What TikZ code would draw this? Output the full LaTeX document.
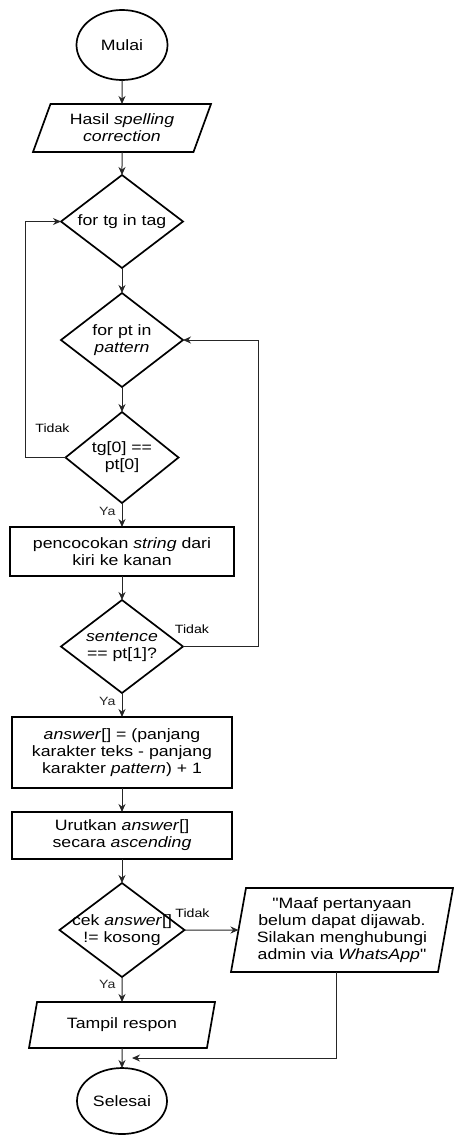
\documentclass[tikz,border=0pt]{standalone}
\usepackage{fontspec}
\setmainfont{Liberation Sans}[FakeStretch=1.18, Ligatures=TeXOff]
\usetikzlibrary{positioning, shapes.geometric, arrows.meta, calc}

\begin{document}
\begin{tikzpicture}[
  font=\fontsize{15}{17}\selectfont,
  every node/.append style={align=center},
  termcard/.style={
    ellipse, draw, line width=1.7pt, outer sep=0pt,
    minimum width=91pt, minimum height=70pt, inner sep=0pt
  },
  iocard/.style={
    trapezium, draw, line width=1.7pt, outer sep=0pt,
    trapezium stretches body=true,
    inner xsep=2pt, inner ysep=0pt
  },
  stepcard/.style={
    rectangle, draw, line width=1.7pt, outer sep=0pt,
    minimum width=220pt, minimum height=47pt, inner sep=0pt
  },
  loopcard/.style={
    diamond, draw, line width=1.7pt, outer sep=0pt, aspect=1.31,
    minimum width=122pt, minimum height=93pt, inner sep=0pt
  },
  flow/.style={-{Stealth[length=8pt,width=7pt]}, line width=1pt, black!85},
  branchlabel/.style={font=\fontsize{12}{14}\selectfont, inner sep=1pt}
]

\useasboundingbox (0,0) rectangle (453pt,-1135pt);

\node[termcard] (mulai) at (122pt,-45pt) {Mulai};

\node[iocard, below=24pt of mulai,
  trapezium left angle=58, trapezium right angle=122,
  minimum width=178pt, minimum height=48pt] (hasil) {%
  Hasil \textit{spelling}\\\textit{correction}};

\node[loopcard, below=23pt of hasil] (fortg) {for tg in tag};

\node[loopcard, below=25pt of fortg, minimum height=94pt] (forpt) {%
  for pt in\\\textit{pattern}};

\node[loopcard, below=25pt of forpt,
  minimum width=113pt, minimum height=91pt] (cekawal) {%
  tg[0] ==\\pt[0]};

\node[stepcard, below=24pt of cekawal,
  minimum width=224pt, minimum height=49pt] (cocok) {%
  pencocokan \textit{string} dari\\kiri ke kanan};

\node[loopcard, below=24pt of cocok] (cekkalimat) {%
  \textit{sentence}\\== pt[1]?};

\node[stepcard, below=24pt of cekkalimat, minimum height=71pt] (hitung) {%
  \textit{answer}[] = (panjang\\karakter teks - panjang\\karakter \textit{pattern}) + 1};

\node[stepcard, below=24pt of hitung] (urut) {%
  Urutkan \textit{answer}[]\\secara \textit{ascending}};

\node[loopcard, below=24pt of urut,
  minimum width=125pt, minimum height=94pt, inner xsep=-15pt] (cekjawab) {%
  cek \textit{answer}[]\\!= kosong};

\node[iocard, trapezium left angle=77, trapezium right angle=103,
  minimum width=222pt, minimum height=84pt] (maaf) at ([xshift=220pt]cekjawab.center) {%
  "Maaf pertanyaan\\belum dapat dijawab.\\Silakan menghubungi\\admin via \textit{WhatsApp}"};

\node[iocard, below=25pt of cekjawab,
  trapezium left angle=60, trapezium right angle=120,
  minimum width=186pt, minimum height=46pt] (tampil) {Tampil respon};

\node[termcard, below=20pt of tampil,
  minimum width=90pt, minimum height=66pt] (selesai) {Selesai};

\coordinate (kiri) at (25pt,0);
\coordinate (kanan) at (258pt,0);
\coordinate (gabung) at ($(tampil.south)!0.5!(selesai.north)$);

\draw[flow] (mulai) -- (hasil);
\draw[flow] (hasil) -- (fortg);
\draw[flow] (fortg) -- (forpt);
\draw[flow] (forpt) -- (cekawal);
\draw[flow] (cekawal) -- node[branchlabel, left=5pt, pos=0.35] (ya1) {Ya} (cocok);
\draw[flow] (cocok) -- (cekkalimat);
\draw[flow] (cekkalimat) -- node[branchlabel, left=5pt, pos=0.35] (ya2) {Ya} (hitung);
\draw[flow] (hitung) -- (urut);
\draw[flow] (urut) -- (cekjawab);
\draw[flow] (cekjawab) -- node[branchlabel, left=5pt, pos=0.3] (ya3) {Ya} (tampil);
\draw[flow] (tampil) -- (selesai);

\draw[flow] (cekawal.west) -- (cekawal.west -| kiri) |- (fortg.west);
\node[branchlabel] (tidak1) at ([xshift=-13pt, yshift=29pt]cekawal.west) {Tidak};

\draw[flow] (cekkalimat.east) -- (cekkalimat.east -| kanan) |- (forpt.east);
\node[branchlabel] (tidak2) at ([xshift=9pt, yshift=17pt]cekkalimat.east) {Tidak};

\draw[flow] (cekjawab.east) -- (maaf.west);
\node[branchlabel] (tidak3) at ([xshift=8pt, yshift=17pt]cekjawab.east) {Tidak};

\draw[flow] ([xshift=-6pt]maaf.south) |- ([xshift=10pt]gabung);

\end{tikzpicture}
\end{document}
